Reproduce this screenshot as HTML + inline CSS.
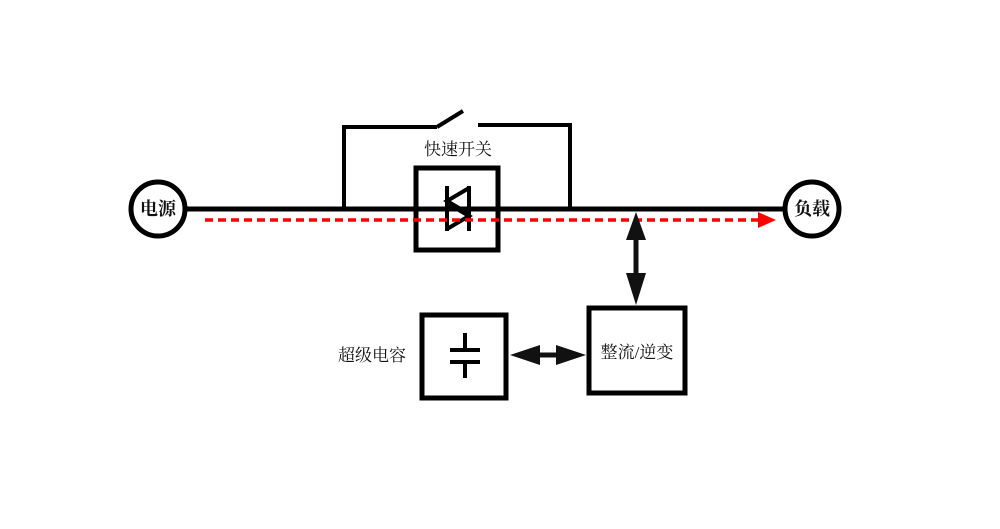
<!DOCTYPE html>
<html><head><meta charset="utf-8"><style>
html,body{margin:0;padding:0;background:#fff;}
svg{display:block}
text{font-family:"Liberation Serif","Noto Serif CJK SC",serif;fill:#111}
</style></head><body>
<svg width="1000" height="529" viewBox="0 0 1000 529" xmlns="http://www.w3.org/2000/svg">
<line x1="184" y1="209" x2="786" y2="209" stroke="#000" stroke-width="5"/>
<polyline points="344,209 344,127 437,127" fill="none" stroke="#000" stroke-width="4"/>
<line x1="437" y1="127" x2="463" y2="111" stroke="#000" stroke-width="4"/>
<polyline points="478,125 570,125 570,209" fill="none" stroke="#000" stroke-width="4"/>
<text x="458" y="155" font-size="17" text-anchor="middle">快速开关</text>
<rect x="416" y="168" width="82" height="82" fill="none" stroke="#000" stroke-width="5"/>
<line x1="447" y1="186" x2="447" y2="231" stroke="#000" stroke-width="4"/>
<line x1="469" y1="186" x2="469" y2="231" stroke="#000" stroke-width="4"/>
<polyline points="469,188 447,201 469,214" fill="none" stroke="#000" stroke-width="4"/>
<polyline points="447,203 469,216 447,229" fill="none" stroke="#000" stroke-width="4"/>
<line x1="205" y1="220" x2="762" y2="220" stroke="#f00" stroke-width="3.5" stroke-dasharray="8,5"/>
<polygon points="758,212 776,220 758,228" fill="#f00"/>
<circle cx="158" cy="209" r="27" fill="#fff" stroke="#000" stroke-width="5"/>
<text x="158" y="215" font-size="18" text-anchor="middle" font-weight="bold">电源</text>
<circle cx="812" cy="209" r="27" fill="#fff" stroke="#000" stroke-width="5"/>
<text x="812" y="215" font-size="18" text-anchor="middle" font-weight="bold">负载</text>
<line x1="636" y1="230" x2="636" y2="290" stroke="#111" stroke-width="5"/>
<polygon points="636,212 626,240 646,240" fill="#111"/>
<polygon points="626,273 646,273 636,305" fill="#111"/>
<rect x="589" y="308" width="96" height="85" fill="none" stroke="#000" stroke-width="5"/>
<text x="637" y="358" font-size="17" text-anchor="middle">整流/逆变</text>
<rect x="422" y="315" width="84" height="83" fill="none" stroke="#000" stroke-width="5"/>
<line x1="450" y1="350" x2="480" y2="350" stroke="#000" stroke-width="4"/>
<line x1="450" y1="362" x2="480" y2="362" stroke="#000" stroke-width="4"/>
<line x1="465" y1="333" x2="465" y2="350" stroke="#000" stroke-width="4"/>
<line x1="465" y1="362" x2="465" y2="378" stroke="#000" stroke-width="4"/>
<text x="372" y="361" font-size="17" text-anchor="middle">超级电容</text>
<line x1="530" y1="355" x2="565" y2="355" stroke="#111" stroke-width="5"/>
<polygon points="510,355 540,345 540,365" fill="#111"/>
<polygon points="586,355 556,345 556,365" fill="#111"/>
</svg>
</body></html>
